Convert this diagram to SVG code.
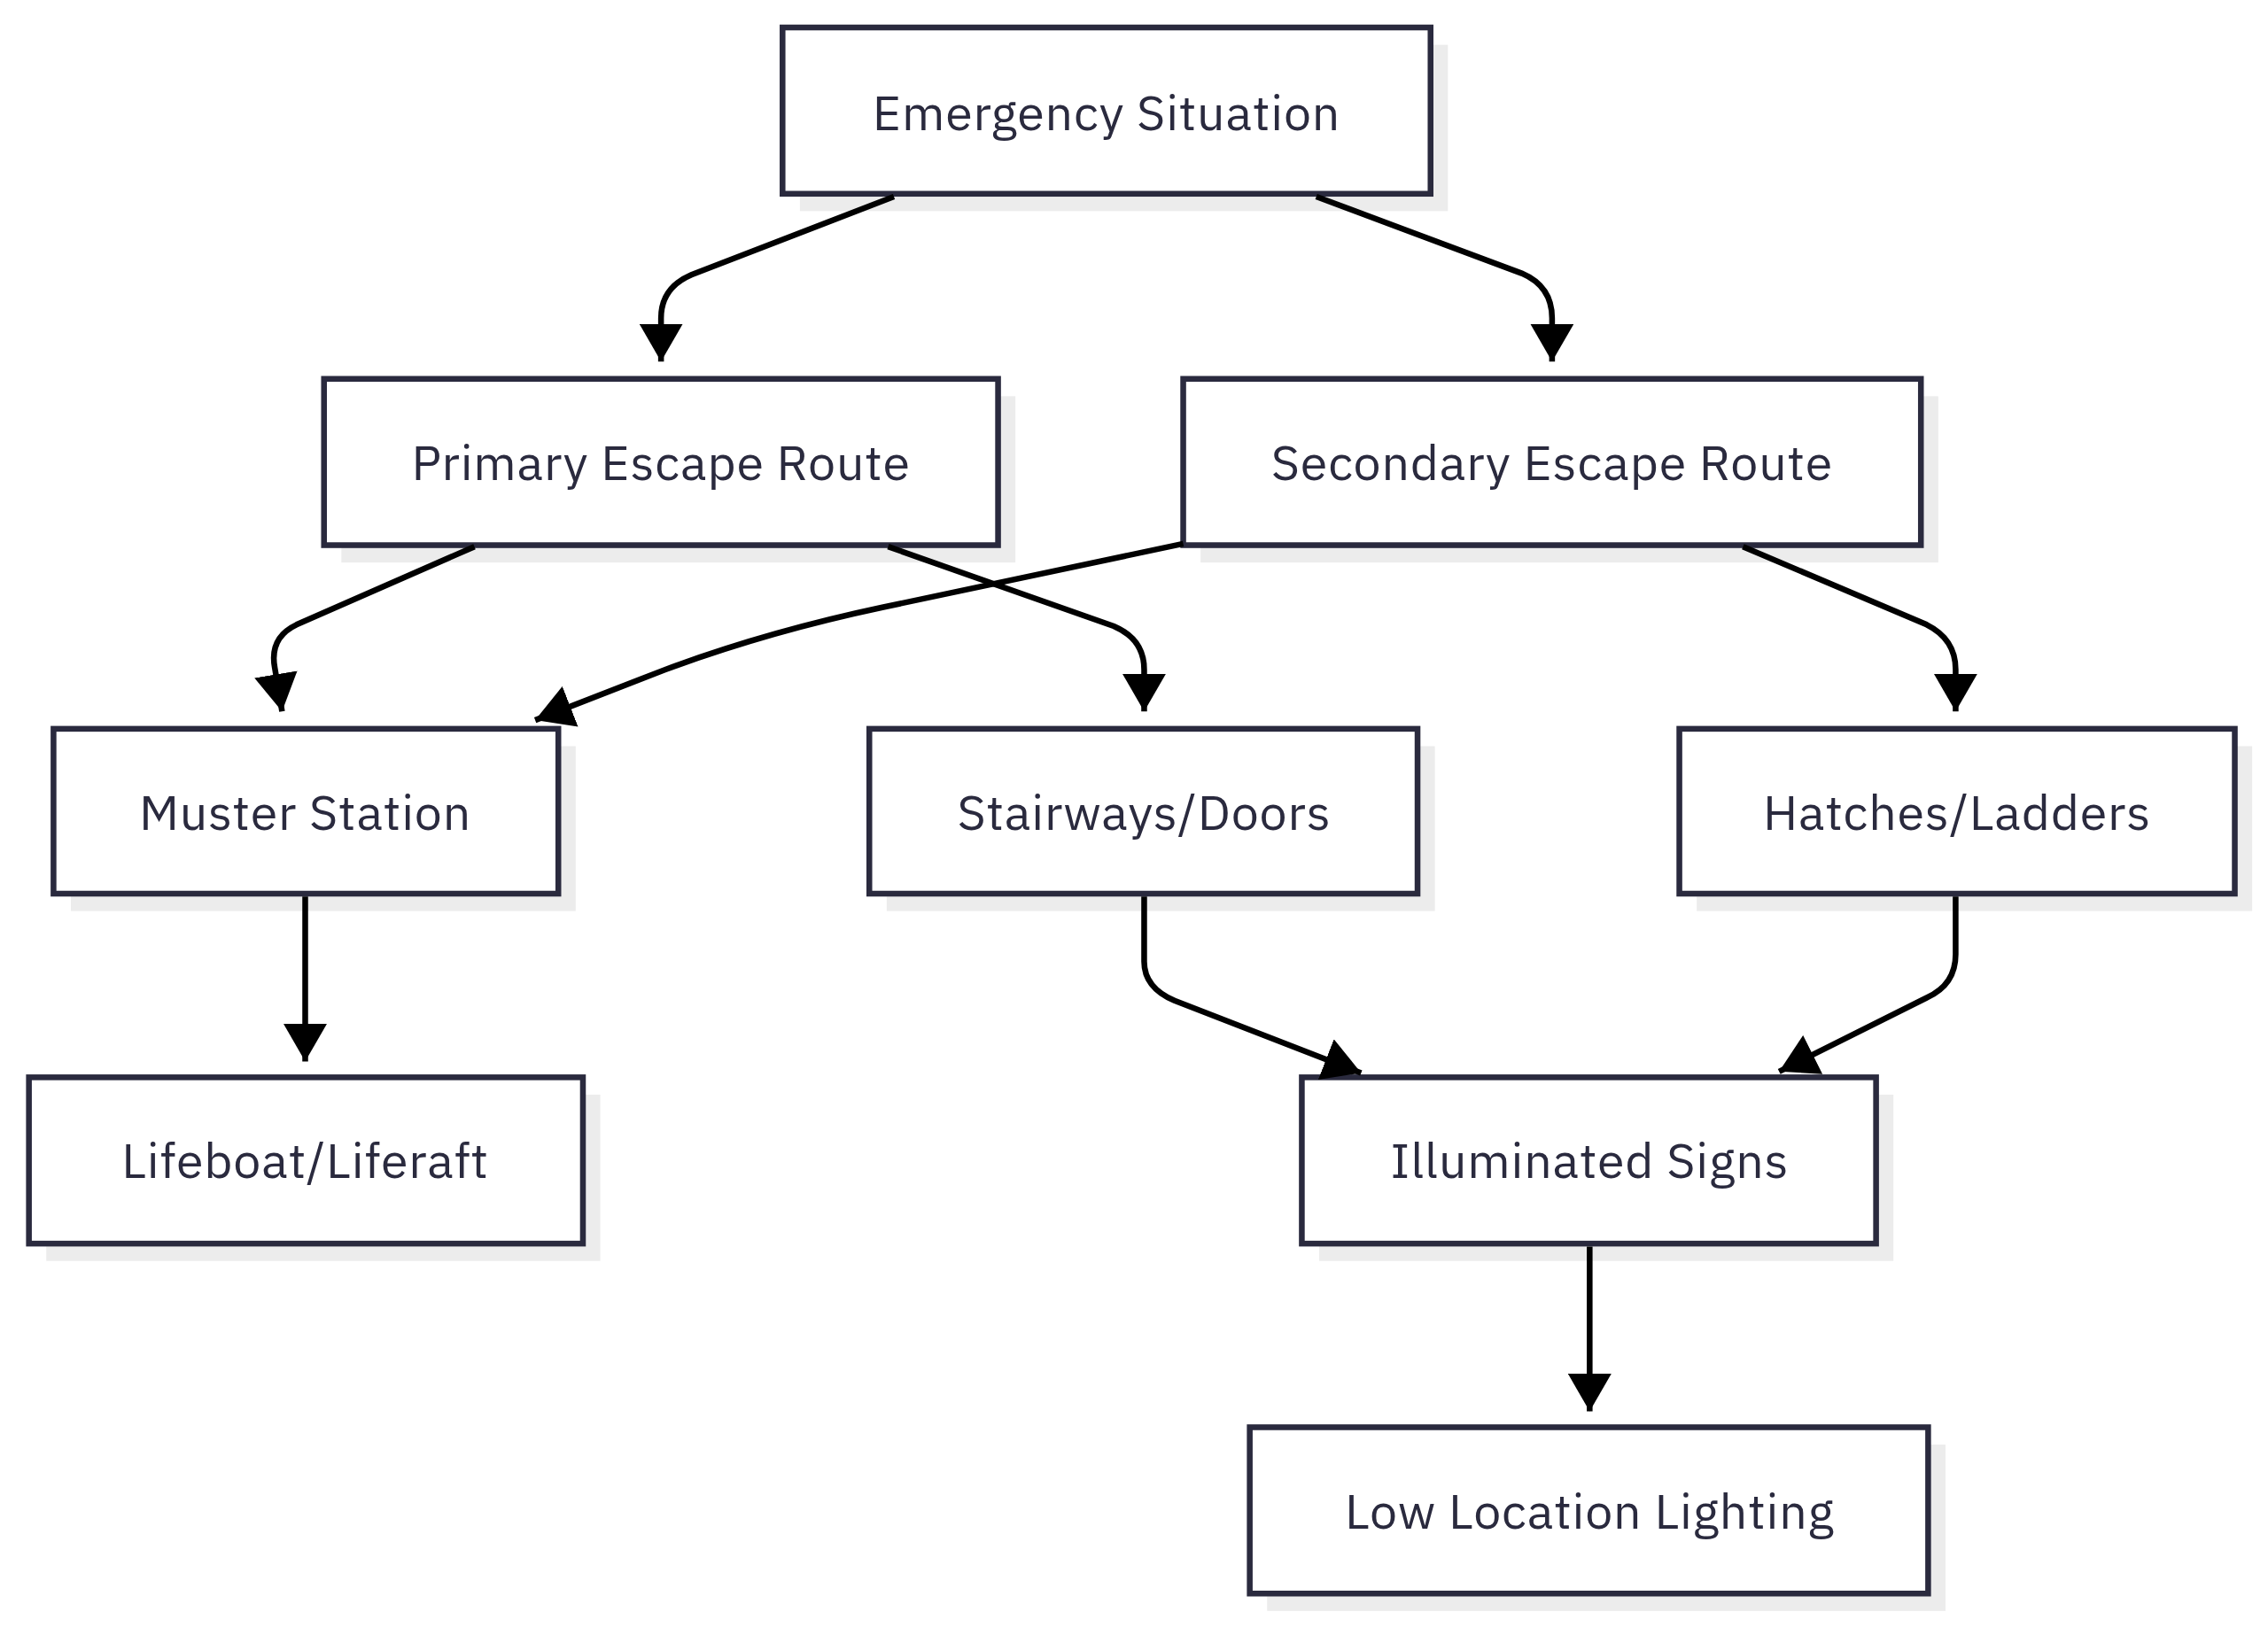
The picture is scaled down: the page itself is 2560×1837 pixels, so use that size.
<svg xmlns="http://www.w3.org/2000/svg" width="2560" height="1837" viewBox="0 0 2560 1837">
<defs>
<style>
.box{fill:#fff;stroke:#2a2a3e;stroke-width:4}
.sh{fill:#ececec}
.t{font-family:"IBM Plex Sans","Noto Sans","Liberation Sans",sans-serif;font-size:34px;fill:#2a2a3e;text-anchor:middle;dominant-baseline:central;letter-spacing:0.5px}
.e{fill:none;stroke:#000;stroke-width:4}
</style>
<marker id="ah" viewBox="0 0 10 10" refX="10" refY="5" markerWidth="26" markerHeight="30" markerUnits="userSpaceOnUse" orient="auto" preserveAspectRatio="none"><path d="M0,0 L10,5 L0,10 z" fill="#000"/></marker>
</defs>
<rect width="2560" height="1837" fill="#fff"/>
<g transform="scale(1.6327)">
<g id="n-emergency"><rect class="sh" x="553" y="31" width="448" height="115"/><rect class="box" x="541" y="19" width="448" height="115"/><text class="t" x="765" y="77">Emergency Situation</text></g>
<g id="n-primary"><rect class="sh" x="236" y="274" width="466" height="115"/><rect class="box" x="224" y="262" width="466" height="115"/><text class="t" x="457" y="319">Primary Escape Route</text></g>
<g id="n-secondary"><rect class="sh" x="830" y="274" width="510" height="115"/><rect class="box" x="818" y="262" width="510" height="115"/><text class="t" x="1073" y="319">Secondary Escape Route</text></g>
<g id="n-muster"><rect class="sh" x="49" y="516" width="349" height="114"/><rect class="box" x="37" y="504" width="349" height="114"/><text class="t" x="211" y="561">Muster Station</text></g>
<g id="n-stair"><rect class="sh" x="613" y="516" width="379" height="114"/><rect class="box" x="601" y="504" width="379" height="114"/><text class="t" x="791" y="561">Stairways/Doors</text></g>
<g id="n-hatch"><rect class="sh" x="1173" y="516" width="384" height="114"/><rect class="box" x="1161" y="504" width="384" height="114"/><text class="t" x="1353" y="561">Hatches/Ladders</text></g>
<g id="n-lifeboat"><rect class="sh" x="32" y="757" width="383" height="115"/><rect class="box" x="20" y="745" width="383" height="115"/><text class="t" x="211" y="802">Lifeboat/Liferaft</text></g>
<g id="n-illum"><rect class="sh" x="912" y="757" width="397" height="115"/><rect class="box" x="900" y="745" width="397" height="115"/><text class="t" x="1099" y="802">Illuminated Signs</text></g>
<g id="n-low"><rect class="sh" x="876" y="999" width="469" height="115"/><rect class="box" x="864" y="987" width="469" height="115"/><text class="t" x="1099" y="1044">Low Location Lighting</text></g>
<g id="connectors">
<path class="e" marker-end="url(#ah)" d="M618,136 L478,190 Q457,199 457,220 L457,250"/>
<path class="e" marker-end="url(#ah)" d="M910,136 L1052,189 Q1073,198 1073,220 L1073,250"/>
<path class="e" marker-end="url(#ah)" d="M328,378 L205,432 Q186,441 190,462 L195,492"/>
<path class="e" marker-end="url(#ah)" d="M614,378 L770,433 Q791,442 791,463 L791,492"/>
<path class="e" marker-end="url(#ah)" d="M818,376 L610,420 Q530,437 460,463 L370,498"/>
<path class="e" marker-end="url(#ah)" d="M1205,378 L1332,432 Q1352,442 1352,463 L1352,492"/>
<path class="e" marker-end="url(#ah)" d="M211,620 L211,734"/>
<path class="e" marker-end="url(#ah)" d="M791,620 L791,665 Q791,683 812,692 L941,742"/>
<path class="e" marker-end="url(#ah)" d="M1352,620 L1352,660 Q1352,681 1332,690 L1230,741"/>
<path class="e" marker-end="url(#ah)" d="M1099,862 L1099,976"/>
</g>
</g>
</svg>
